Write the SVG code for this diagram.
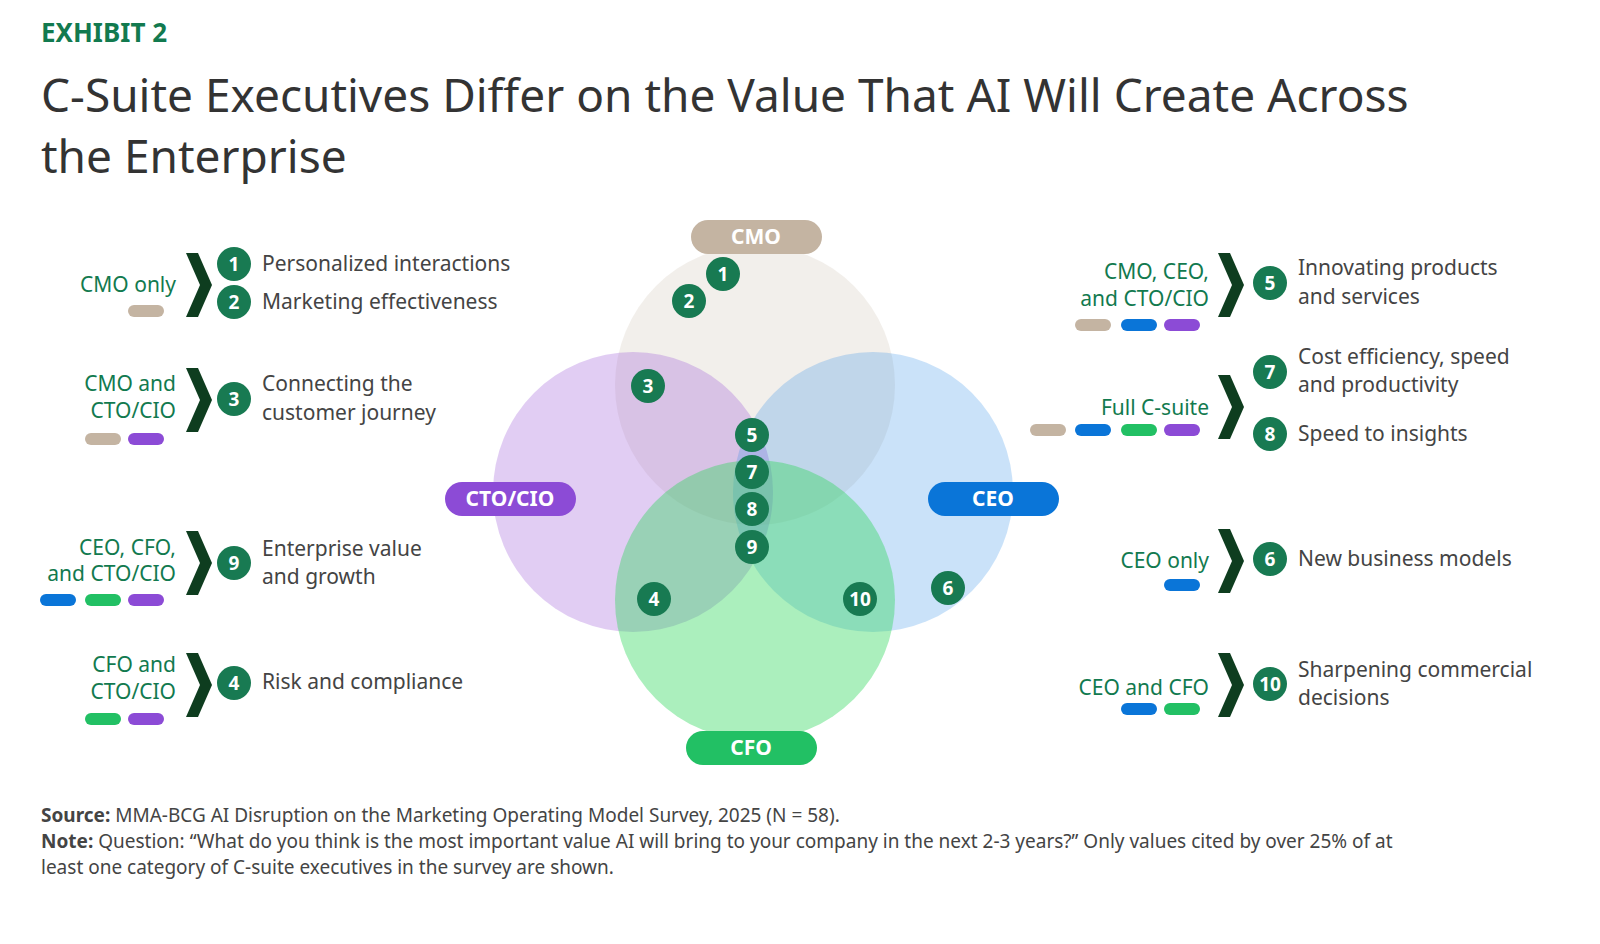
<svg xmlns="http://www.w3.org/2000/svg" width="1600" height="944" viewBox="0 0 1600 944">
<defs>
<style>
.t{font-family:"Noto Sans","Liberation Sans",sans-serif}
.lbl{font-family:"Noto Sans","Liberation Sans",sans-serif;font-size:21px;fill:#127a4f;text-anchor:end}
.item{font-family:"Noto Sans","Liberation Sans",sans-serif;font-size:21px;fill:#444}
.num{font-family:"Noto Sans","Liberation Sans",sans-serif;font-size:19px;font-weight:bold;fill:#fff;text-anchor:middle}
.b{fill:#187a52}
.pill{font-family:"Noto Sans","Liberation Sans",sans-serif;font-size:21px;font-weight:bold;fill:#fff;text-anchor:middle}
.cmo{fill:#c4b4a2}.cto{fill:#8c4bd6}.ceo{fill:#0a75d8}.cfo{fill:#22c064}
</style>
<symbol id="chev" viewBox="0 0 26 64" overflow="visible"><polygon points="0,0 12,0 26,32 12,64 0,64 14,32" fill="#0e3d1f"/></symbol>
</defs>
<rect width="1600" height="944" fill="#fff"/>
<text class="t" x="41" y="42" font-size="26" font-weight="bold" fill="#127a4f">EXHIBIT 2</text>
<text class="t" x="41" y="112" font-size="46" fill="#333">C-Suite Executives Differ on the Value That AI Will Create Across</text>
<text class="t" x="41" y="173" font-size="46" fill="#333">the Enterprise</text>

<g id="venn">
<circle cx="755" cy="385" r="140" fill="#c4b4a2" fill-opacity="0.22"/>
<circle cx="633" cy="492" r="140" fill="#9a5ad8" fill-opacity="0.3"/>
<circle cx="873" cy="492" r="140" fill="#2c8ae6" fill-opacity="0.25"/>
<circle cx="755" cy="600" r="140" fill="#2ed65a" fill-opacity="0.4"/>
</g>
<g id="pills">
<rect x="691" y="220" width="131" height="34" rx="17" class="cmo"/><text class="pill" x="756" y="244">CMO</text>
<rect x="445" y="482" width="131" height="34" rx="17" class="cto"/><text class="pill" x="510" y="506">CTO/CIO</text>
<rect x="928" y="482" width="131" height="34" rx="17" class="ceo"/><text class="pill" x="993" y="506">CEO</text>
<rect x="686" y="731" width="131" height="34" rx="17" class="cfo"/><text class="pill" x="751" y="755">CFO</text>
</g>
<g id="venn-badges">
<circle class="b" cx="723" cy="274" r="17"/><text class="num" x="723" y="281">1</text>
<circle class="b" cx="689" cy="301" r="17"/><text class="num" x="689" y="308">2</text>
<circle class="b" cx="648" cy="386" r="17"/><text class="num" x="648" y="393">3</text>
<circle class="b" cx="752" cy="435" r="17"/><text class="num" x="752" y="442">5</text>
<circle class="b" cx="752" cy="472" r="17"/><text class="num" x="752" y="479">7</text>
<circle class="b" cx="752" cy="509" r="17"/><text class="num" x="752" y="516">8</text>
<circle class="b" cx="752" cy="547" r="17"/><text class="num" x="752" y="554">9</text>
<circle class="b" cx="654" cy="599" r="17"/><text class="num" x="654" y="606">4</text>
<circle class="b" cx="860" cy="599" r="17"/><text class="num" x="860" y="606">10</text>
<circle class="b" cx="948" cy="588" r="17"/><text class="num" x="948" y="595">6</text>
</g>

<g id="left-1">
<text class="lbl" x="176" y="292">CMO only</text>
<rect x="128" y="305" width="36" height="12" rx="6" class="cmo"/>
<use href="#chev" x="186" y="253" width="26" height="64"/>
<circle class="b" cx="234" cy="264" r="17"/><text class="num" x="234" y="271">1</text>
<circle class="b" cx="234" cy="302" r="17"/><text class="num" x="234" y="309">2</text>
<text class="item" x="262" y="271">Personalized interactions</text>
<text class="item" x="262" y="309">Marketing effectiveness</text>
</g>
<g id="left-3">
<text class="lbl" x="176" y="391">CMO and</text>
<text class="lbl" x="176" y="418">CTO/CIO</text>
<rect x="85" y="433" width="36" height="12" rx="6" class="cmo"/>
<rect x="128" y="433" width="36" height="12" rx="6" class="cto"/>
<use href="#chev" x="186" y="368" width="26" height="64"/>
<circle class="b" cx="234" cy="399" r="17"/><text class="num" x="234" y="406">3</text>
<text class="item" x="262" y="391">Connecting the</text>
<text class="item" x="262" y="420">customer journey</text>
</g>
<g id="left-9">
<text class="lbl" x="176" y="555">CEO, CFO,</text>
<text class="lbl" x="176" y="581">and CTO/CIO</text>
<rect x="40" y="594" width="36" height="12" rx="6" class="ceo"/>
<rect x="85" y="594" width="36" height="12" rx="6" class="cfo"/>
<rect x="128" y="594" width="36" height="12" rx="6" class="cto"/>
<use href="#chev" x="186" y="531" width="26" height="64"/>
<circle class="b" cx="234" cy="563" r="17"/><text class="num" x="234" y="570">9</text>
<text class="item" x="262" y="556">Enterprise value</text>
<text class="item" x="262" y="584">and growth</text>
</g>
<g id="left-4">
<text class="lbl" x="176" y="672">CFO and</text>
<text class="lbl" x="176" y="699">CTO/CIO</text>
<rect x="85" y="713" width="36" height="12" rx="6" class="cfo"/>
<rect x="128" y="713" width="36" height="12" rx="6" class="cto"/>
<use href="#chev" x="186" y="653" width="26" height="64"/>
<circle class="b" cx="234" cy="683" r="17"/><text class="num" x="234" y="690">4</text>
<text class="item" x="262" y="689">Risk and compliance</text>
</g>

<g id="right-5">
<text class="lbl" x="1209" y="279">CMO, CEO,</text>
<text class="lbl" x="1209" y="306">and CTO/CIO</text>
<rect x="1075" y="319" width="36" height="12" rx="6" class="cmo"/>
<rect x="1121" y="319" width="36" height="12" rx="6" class="ceo"/>
<rect x="1164" y="319" width="36" height="12" rx="6" class="cto"/>
<use href="#chev" x="1218" y="253" width="26" height="64"/>
<circle class="b" cx="1270" cy="283" r="17"/><text class="num" x="1270" y="290">5</text>
<text class="item" x="1298" y="275">Innovating products</text>
<text class="item" x="1298" y="304">and services</text>
</g>
<g id="right-7-8">
<text class="lbl" x="1209" y="415">Full C-suite</text>
<rect x="1030" y="424" width="36" height="12" rx="6" class="cmo"/>
<rect x="1075" y="424" width="36" height="12" rx="6" class="ceo"/>
<rect x="1121" y="424" width="36" height="12" rx="6" class="cfo"/>
<rect x="1164" y="424" width="36" height="12" rx="6" class="cto"/>
<use href="#chev" x="1218" y="375" width="26" height="64"/>
<circle class="b" cx="1270" cy="372" r="17"/><text class="num" x="1270" y="379">7</text>
<circle class="b" cx="1270" cy="434" r="17"/><text class="num" x="1270" y="441">8</text>
<text class="item" x="1298" y="364">Cost efficiency, speed</text>
<text class="item" x="1298" y="392">and productivity</text>
<text class="item" x="1298" y="441">Speed to insights</text>
</g>
<g id="right-6">
<text class="lbl" x="1209" y="568">CEO only</text>
<rect x="1164" y="579" width="36" height="12" rx="6" class="ceo"/>
<use href="#chev" x="1218" y="529" width="26" height="64"/>
<circle class="b" cx="1270" cy="559" r="17"/><text class="num" x="1270" y="566">6</text>
<text class="item" x="1298" y="566">New business models</text>
</g>
<g id="right-10">
<text class="lbl" x="1209" y="695">CEO and CFO</text>
<rect x="1121" y="703" width="36" height="12" rx="6" class="ceo"/>
<rect x="1164" y="703" width="36" height="12" rx="6" class="cfo"/>
<use href="#chev" x="1218" y="653" width="26" height="64"/>
<circle class="b" cx="1270" cy="684" r="17"/><text class="num" x="1270" y="691">10</text>
<text class="item" x="1298" y="677">Sharpening commercial</text>
<text class="item" x="1298" y="705">decisions</text>
</g>
<g id="connectors"/>
<g id="footer" class="t" font-size="19" fill="#444">
<text x="41" y="822"><tspan font-weight="bold">Source:</tspan> MMA-BCG AI Disruption on the Marketing Operating Model Survey, 2025 (N = 58).</text>
<text x="41" y="848"><tspan font-weight="bold">Note:</tspan> Question: “What do you think is the most important value AI will bring to your company in the next 2-3 years?” Only values cited by over 25% of at</text>
<text x="41" y="874">least one category of C-suite executives in the survey are shown.</text>
</g>
</svg>
